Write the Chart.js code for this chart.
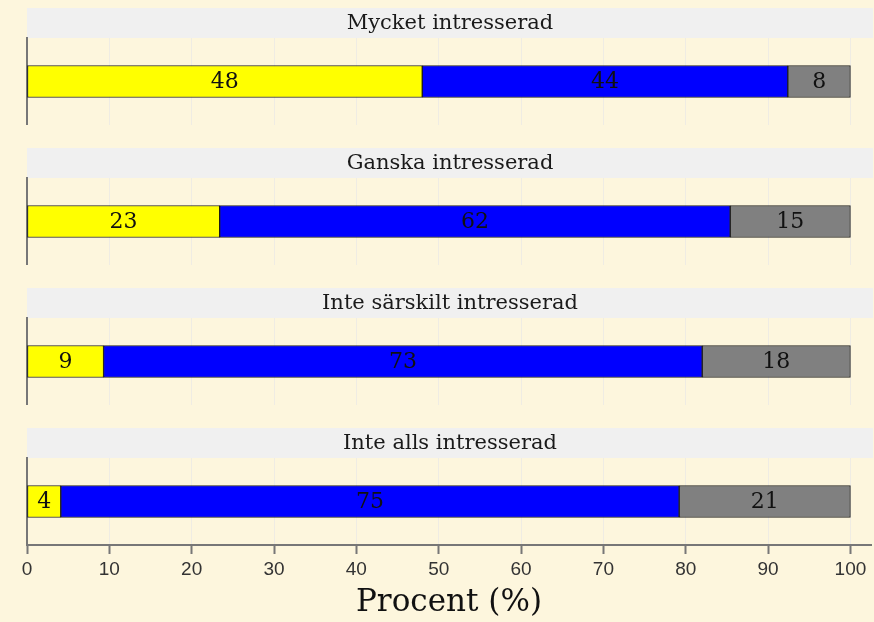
<!DOCTYPE html>
<html>
<head>
<meta charset="utf-8">
<script src="https://cdn.jsdelivr.net/npm/chart.js@4.4.1/dist/chart.umd.min.js"></script>
<style>
  html, body { margin: 0; padding: 0; background: #fdf6dd; }
  body { width: 874px; height: 622px; position: relative; overflow: hidden; }
  .panel { position: absolute; left: 0; width: 874px; }
</style>
</head>
<body>
<div class="panel" style="top:8px;height:117px"><canvas id="c0"></canvas></div>
<div class="panel" style="top:148px;height:117px"><canvas id="c1"></canvas></div>
<div class="panel" style="top:288px;height:117px"><canvas id="c2"></canvas></div>
<div class="panel" style="top:428px;height:194px"><canvas id="c3"></canvas></div>
<script>
// ---- data ----
const panelTitles = ["Mycket intresserad", "Ganska intresserad", "Inte särskilt intresserad", "Inte alls intresserad"];
const seriesA = [48.0, 23.4, 9.3, 4.1];   // yellow
const seriesB = [44.4, 62.0, 72.7, 75.1]; // blue
const seriesC = [7.6, 14.6, 18.0, 20.8];  // grey
const xTicks = [0, 10, 20, 30, 40, 50, 60, 70, 80, 90, 100];
const xTitle = "Procent (%)";

const colors = ["#ffff00", "#0000ff", "#808080"];
const serif = "'DejaVu Serif', 'Liberation Serif', serif";

const headerPlugin = {
  id: 'header',
  beforeDraw(chart, args, opts) {
    const ctx = chart.ctx;
    const left = chart.chartArea.left;
    ctx.save();
    ctx.fillStyle = '#f0f0f0';
    ctx.fillRect(left, 0, 873 - left, 30);
    ctx.fillStyle = '#1a1a1a';
    ctx.font = "21px " + serif;
    ctx.textAlign = 'center';
    ctx.textBaseline = 'middle';
    ctx.fillText(opts.text, (left + 873) / 2, 15.5);
    ctx.restore();
  }
};

const labelPlugin = {
  id: 'barLabels',
  afterDatasetsDraw(chart) {
    const ctx = chart.ctx;
    ctx.save();
    ctx.font = "22px " + serif;
    ctx.fillStyle = '#111';
    ctx.textAlign = 'center';
    ctx.textBaseline = 'middle';
    chart.data.datasets.forEach((ds, di) => {
      const meta = chart.getDatasetMeta(di);
      meta.data.forEach((el, i) => {
        const v = ds.data[i];
        const cx = (el.x + el.base) / 2;
        ctx.fillText(String(Math.round(v)), cx, el.y + 1);
      });
    });
    ctx.restore();
  }
};

function makeChart(idx) {
  const last = idx === panelTitles.length - 1;
  const vals = [seriesA[idx], seriesB[idx], seriesC[idx]];
  const datasets = vals.map((v, k) => ({
    data: [v],
    backgroundColor: colors[k],
    borderColor: 'rgba(0,0,0,0.85)',
    borderWidth: 1,
    borderSkipped: false,
    barThickness: 32
  }));
  new Chart(document.getElementById('c' + idx), {
    type: 'bar',
    data: { labels: [panelTitles[idx]], datasets },
    options: {
      indexAxis: 'y',
      responsive: true,
      maintainAspectRatio: false,
      animation: false,
      layout: { padding: { top: 30, left: 27, right: 3, bottom: 0 } },
      plugins: {
        legend: { display: false },
        tooltip: { enabled: false },
        header: { text: panelTitles[idx] }
      },
      scales: {
        x: {
          type: 'linear',
          min: 0,
          max: 102.5,
          stacked: true,
          afterBuildTicks(scale) { scale.ticks = xTicks.map(v => ({ value: v })); },
          afterFit(scale) { scale.height = last ? 77 : 0; },
          grid: {
            color: '#efece3',
            lineWidth: 1,
            drawTicks: last,
            tickLength: 9,
            tickColor: '#777',
            tickWidth: 2
          },
          border: { display: last, color: '#777', width: 2 },
          ticks: {
            display: last,
            padding: 4,
            color: '#333',
            font: { family: "'Liberation Sans', Arial, sans-serif", size: 19 }
          },
          title: {
            display: last,
            text: xTitle,
            color: '#111',
            padding: 0,
            font: { family: serif, size: 31 }
          }
        },
        y: {
          type: 'category',
          stacked: true,
          afterFit(scale) { scale.width = 0; },
          grid: { color: 'transparent', drawTicks: false },
          border: { display: true, color: '#777', width: 2 },
          ticks: { display: false }
        }
      }
    },
    plugins: [headerPlugin, labelPlugin]
  });
}

panelTitles.forEach((t, i) => makeChart(i));
</script>
</body>
</html>
